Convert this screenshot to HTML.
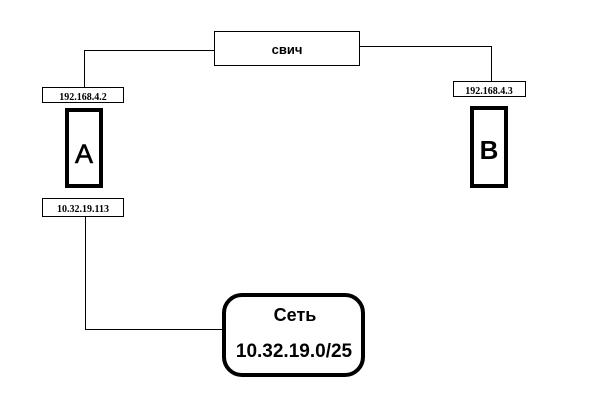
<!DOCTYPE html>
<html><head><meta charset="utf-8"><style>
body{margin:0;background:#fff;}
</style></head><body>
<svg width="600" height="400" xmlns="http://www.w3.org/2000/svg" style="display:block">
<g fill="none" stroke="#000" stroke-width="1">
<polyline points="214.5,50.5 84.5,50.5 84.5,87"/>
<polyline points="360,46.5 491.5,46.5 491.5,81"/>
<polyline points="85.5,217 85.5,329.5 222,329.5"/>
<rect x="214.5" y="31.5" width="145" height="34"/>
<rect x="42.5" y="87.5" width="81" height="15"/>
<rect x="42.5" y="198.5" width="81" height="18"/>
<rect x="453.5" y="81.5" width="72" height="15"/>
</g>
<g fill="none" stroke="#000" stroke-width="4">
<rect x="67" y="110" width="34" height="76"/>
<rect x="472" y="108" width="34" height="78"/>
<rect x="224" y="295" width="139" height="80" rx="18"/>
</g>
<g font-family="Liberation Sans, DejaVu Sans, sans-serif" fill="#000" text-anchor="middle">
<text x="287" y="54" font-size="13" font-weight="bold">свич</text>
<text x="83" y="100" font-size="10" font-weight="bold" font-family="Liberation Serif, serif">192.168.4.2</text>
<text x="83" y="212" font-size="10" font-weight="bold" font-family="Liberation Serif, serif">10.32.19.113</text>
<text x="489" y="94" font-size="10" font-weight="bold" font-family="Liberation Serif, serif">192.168.4.3</text>
<text x="84" y="163" font-size="27" stroke="#000" stroke-width="0.6">A</text>
<text x="489" y="159" font-size="26" font-weight="bold">B</text>
<text x="295" y="321" font-size="18" font-weight="bold">Сеть</text>
<text x="294" y="357" font-size="19" font-weight="bold">10.32.19.0/25</text>
</g>
</svg>
</body></html>
